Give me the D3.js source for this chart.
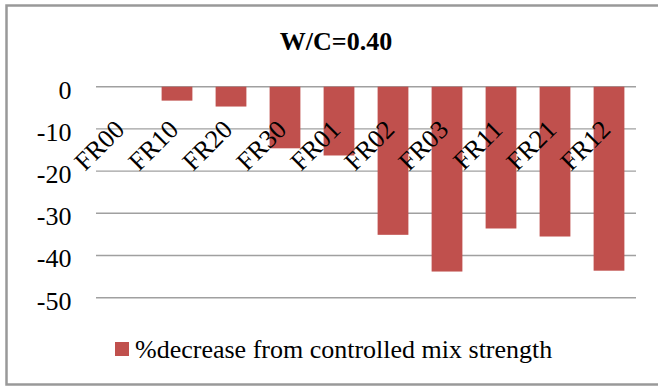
<!DOCTYPE html>
<html>
<head>
<meta charset="utf-8">
<script src="https://cdn.jsdelivr.net/npm/d3@7"></script>
</head>
<body style="margin:0;background:#fff">
<svg id="chart" width="658" height="387" style="display:block"></svg>
<script>
// Mix designations and % change in strength relative to the control mix
const categories = ["FR00", "FR10", "FR20", "FR30", "FR01", "FR02", "FR03", "FR11", "FR21", "FR12"];
const decrease = [0, -3.3, -4.7, -14.6, -16.3, -35.1, -43.8, -33.6, -35.5, -43.6];
const yTicks = [0, -10, -20, -30, -40, -50];
const chartTitle = "W/C=0.40";
const seriesName = "%decrease from controlled mix strength";

const FONT = '"Liberation Serif"';
const svg = d3.select("#chart");
const barColor = "#C0504D";

// Serif text helper
function serif(sel, size, weight) {
  return sel
    .style("font-family", FONT, "important")
    .style("font-size", size + "px", "important")
    .style("font-weight", weight || "normal", "important")
    .attr("fill", "#000");
}

// Outer frame
svg.append("rect")
  .attr("x", 6.5).attr("y", 5.5)
  .attr("width", 654).attr("height", 379)
  .attr("fill", "none").attr("stroke", "#999").attr("stroke-width", 2.5);

const plot = { left: 96, right: 636, top: 86.7, bottom: 297.7 };

const x = d3.scaleBand()
  .domain(categories)
  .range([plot.left, plot.right])
  .paddingInner(0.43)
  .paddingOuter(0.215);

const y = d3.scaleLinear()
  .domain([-50, 0])
  .range([plot.bottom, plot.top]);

// Horizontal gridlines
svg.append("g")
  .selectAll("line")
  .data(yTicks)
  .join("line")
  .attr("x1", plot.left).attr("x2", plot.right)
  .attr("y1", d => y(d)).attr("y2", d => y(d))
  .attr("stroke", "#a0a0a0").attr("stroke-width", 1.4);

// Y axis labels (plain hyphen for negatives)
const yAxis = d3.axisLeft(y).tickValues(yTicks).tickSize(0).tickPadding(0)
  .tickFormat(d => String(d));
const gy = svg.append("g")
  .attr("transform", `translate(${plot.left - 24.5},0)`)
  .call(yAxis);
gy.select(".domain").remove();
serif(gy.selectAll("text"), 26).attr("dy", "0.44em");

// Bars
svg.append("g")
  .selectAll("rect")
  .data(categories.map((c, i) => ({ c, v: decrease[i] })))
  .join("rect")
  .attr("x", d => x(d.c))
  .attr("width", x.bandwidth())
  .attr("y", d => y(Math.max(0, d.v)))
  .attr("height", d => Math.abs(y(d.v) - y(0)))
  .attr("fill", barColor);

// Category labels, rotated
serif(svg.append("g")
  .selectAll("text")
  .data(categories)
  .join("text")
  .attr("transform", d => `translate(${x(d) + x.bandwidth() / 2 + 3},131) rotate(-45)`)
  .attr("text-anchor", "end")
  .text(d => d), 26);

// Title
serif(svg.append("text")
  .attr("x", 336).attr("y", 50)
  .attr("text-anchor", "middle")
  .text(chartTitle), 26, "bold");

// Legend
const legend = svg.append("g");
legend.append("rect")
  .attr("x", 115).attr("y", 342)
  .attr("width", 14).attr("height", 14)
  .attr("fill", barColor);
serif(legend.append("text")
  .attr("x", 135).attr("y", 358)
  .text(seriesName), 26);
</script>
</body>
</html>
